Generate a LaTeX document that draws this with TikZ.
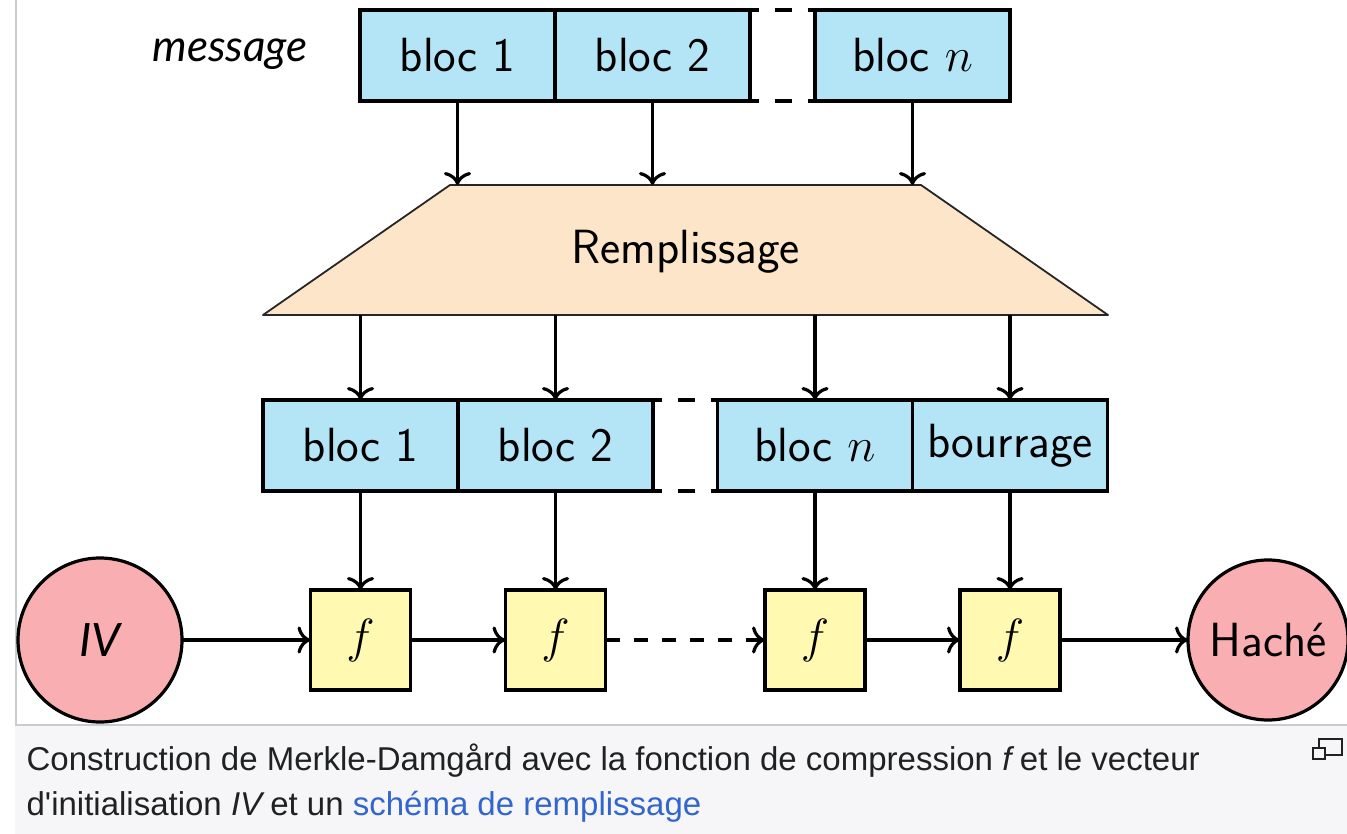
\RequirePackage{fix-cm}
\documentclass[tikz,border=0pt]{standalone}
\usepackage{fontspec}
\usetikzlibrary{positioning,arrows.meta}

\newfontfamily\lato{Lato}
\newfontfamily\captionfont[Ligatures=TeXOff]{Liberation Sans}

\definecolor{blocblue}{RGB}{180,229,246}
\definecolor{padpeach}{RGB}{253,229,201}
\definecolor{compyellow}{RGB}{255,249,177}
\definecolor{etatpink}{RGB}{249,174,177}
\definecolor{framegray}{RGB}{200,204,209}
\definecolor{capbg}{RGB}{246,246,249}
\definecolor{captext}{RGB}{32,33,34}
\definecolor{linkblue}{RGB}{51,102,204}

\begin{document}
\begin{tikzpicture}[x=1pt, y=-1pt, line width=3.2pt, >={To[scale=1.5]},
    bloc/.style={draw, fill=blocblue, minimum width=195pt, minimum height=91pt,
        inner sep=0pt, outer sep=0pt, font=\sffamily\fontsize{48}{56}\selectfont},
    comp/.style={draw, fill=compyellow, minimum size=100pt, inner sep=0pt,
        outer sep=0pt, font=\fontsize{48}{56}\selectfont},
    etat/.style={draw, circle, fill=etatpink, inner sep=0pt, outer sep=0pt,
        font=\sffamily\fontsize{48}{56}\selectfont},
    pad/.style={draw=black!85, line width=1.8pt, fill=padpeach, line join=round},
    gap/.style={dash pattern=on 17pt off 16pt, dash phase=8.5pt}]

    \useasboundingbox (0,0) rectangle (1347,834);

    % frame and caption area
    \path[fill=capbg] (15,726) rectangle (1347,834);
    \path[draw, framegray, line width=1.5pt] (16,0) -- (16,725) -- (1347,725);

    % message blocks
    \node[font=\lato\itshape\fontsize{44}{52}\selectfont] (msg) at (230,54) {message};
    \node[bloc] (m1) at (457.5,55.5) {bloc 1};
    \node[bloc, right=0pt of m1] (m2) {bloc 2};
    \node[bloc] (mn) at (912.5,55.5) {bloc $n$};
    \path[draw, gap] (m2.north east) -- (mn.north west) (m2.south east) -- (mn.south west);

    % padding
    \coordinate (padtop) at (685.5,185);
    \coordinate (padbot) at (685.5,315);
    \path[pad] (450,185) -- (921,185) -- (1108,315) -- (263,315) -- cycle;
    \node[font=\sffamily\fontsize{48}{56}\selectfont] (pad) at (685.5,252) {Remplissage};
    \foreach \b in {m1,m2,mn} {
        \path[draw, ->] (\b) -- (\b |- padtop);
    }

    % padded blocks
    \node[bloc] (p1) at (360.5,445.5) {bloc 1};
    \node[bloc, right=0pt of p1] (p2) {bloc 2};
    \node[bloc] (pn) at (815,445.5) {bloc $n$};
    \node[bloc, right=0pt of pn] (pb) {bourrage};
    \path[draw, gap] (p2.north east) -- (pn.north west) (p2.south east) -- (pn.south west);
    \foreach \b in {p1,p2,pn,pb} {
        \path[draw, ->] (padbot -| \b) -- (\b);
    }

    % compression chain
    \node[etat, minimum size=164pt, font=\lato\itshape\fontsize{46}{54}\selectfont] (iv) at (100,640) {IV};
    \node[comp] (f1) at (360.5,640) {$f$};
    \node[comp] (f2) at (555.5,640) {$f$};
    \node[comp] (f3) at (815,640) {$f$};
    \node[comp] (f4) at (1010,640) {$f$};
    \node[etat, minimum size=160pt] (hash) at (1268,640) {Haché};
    \foreach \b/\f in {p1/f1,p2/f2,pn/f3,pb/f4} {
        \path[draw, ->] (\b) -- (\f);
    }
    \path[draw, ->] (iv) -- (f1);
    \path[draw, ->] (f1) -- (f2);
    \path[draw, ->, dash pattern=on 14pt off 14pt] (f2) -- (f3);
    \path[draw, ->] (f3) -- (f4);
    \path[draw, ->] (f4) -- (hash);

    % caption
    \node[anchor=base west, inner sep=0pt, text=captext,
        font=\captionfont\fontsize{33}{45}\selectfont] (cap1) at (25,770)
        {Construction de Merkle-Damgård avec la fonction de compression \textit{f}\,et le vecteur};
    \node[anchor=base west, inner sep=0pt, text=captext,
        font=\captionfont\fontsize{33}{45}\selectfont] (cap2) at (25,815)
        {d'initialisation \textit{IV}\,et un \textcolor{linkblue}{schéma de remplissage}};
    \path[draw, captext, line width=1.5pt] (1319,739) rectangle (1342,755);
    \path[draw, captext, fill=capbg, line width=1.5pt] (1313,748) rectangle (1325,759);

\end{tikzpicture}
\end{document}
